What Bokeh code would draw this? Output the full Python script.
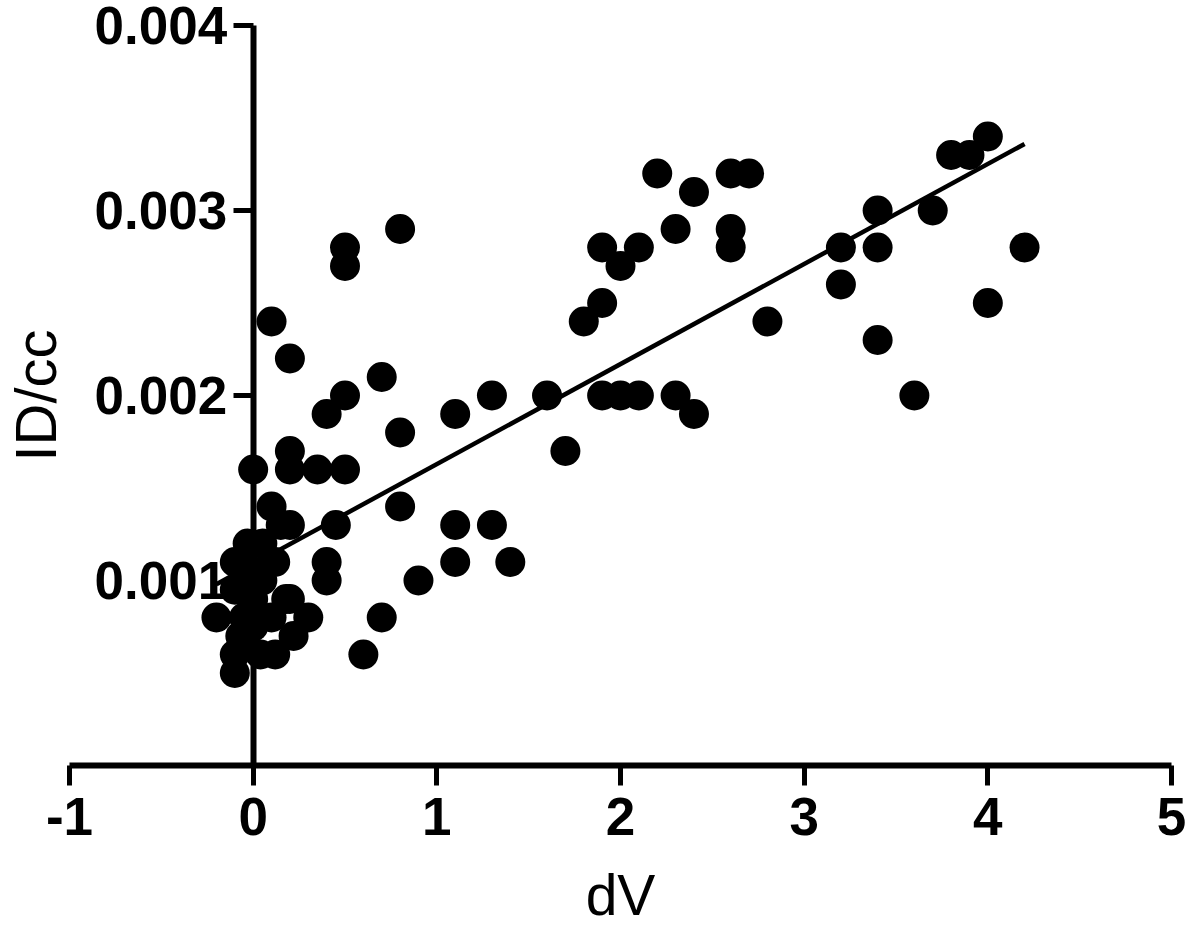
import math
from bokeh.plotting import figure
from bokeh.models import Range1d, FixedTicker, NumeralTickFormatter, Label
from bokeh.embed import file_html
from bokeh.resources import INLINE

# ---- data ----
dv = [
    -0.2, -0.1, -0.1, -0.07, -0.1, -0.1, 0.0, 0.0, 0.05, 0.1, 0.12, 0.2, 0.22,
    0.3, 0.15, 0.1, 0.05, 0.12, -0.03, 0.0, 0.18, 0.04, -0.05, 0.0, 0.2,
    0.1, 0.2, 0.2, 0.2, 0.35, 0.5, 0.4, 0.5, 0.5, 0.5, 0.8, 0.7, 0.8, 0.8,
    0.45, 0.4, 0.4, 0.7, 0.6, 0.9, 1.1, 1.1, 1.1, 1.3, 1.3, 1.4, 1.6, 1.7,
    1.8, 1.9, 1.9, 2.0, 2.1, 1.9, 2.0, 2.1, 2.3, 2.4, 2.2, 2.4, 2.3, 2.6,
    2.7, 2.6, 2.6, 2.8, 3.2, 3.2, 3.4, 3.4, 3.4, 3.6, 3.7, 3.8, 3.9, 4.0,
    4.0, 4.2,
]
id_cc = [
    0.0008, 0.0011, 0.00095, 0.0007, 0.0006, 0.0005, 0.0009, 0.00075, 0.001,
    0.0008, 0.0006, 0.0009, 0.0007, 0.0008, 0.0013, 0.0014, 0.0012, 0.0011,
    0.0012, 0.00105, 0.0009, 0.0006, 0.0008, 0.0016, 0.0013,
    0.0024, 0.0022, 0.0017, 0.0016, 0.0016, 0.0016, 0.0019, 0.0020, 0.0028,
    0.0027, 0.0029, 0.0021, 0.0018, 0.0014, 0.0013, 0.0011, 0.0010, 0.0008,
    0.0006, 0.0010, 0.0019, 0.0013, 0.0011, 0.0020, 0.0013, 0.0011, 0.0020,
    0.0017, 0.0024, 0.0025, 0.0028, 0.0027, 0.0028, 0.0020, 0.0020, 0.0020,
    0.0020, 0.0019, 0.0032, 0.0031, 0.0029, 0.0032, 0.0032, 0.0029, 0.0028,
    0.0024, 0.0028, 0.0026, 0.0030, 0.0028, 0.0023, 0.0020, 0.0030, 0.0033,
    0.0033, 0.0034, 0.0025, 0.0028,
]
fit_dv = [-0.2, 4.2]
fit_id_cc = [0.00098, 0.00336]

x_ticks = [-1, 0, 1, 2, 3, 4, 5]
y_ticks = [0.001, 0.002, 0.003, 0.004]
x_title = "dV"
y_title = "ID/cc"

FONT = "Liberation Sans"

# layout: the frame fills the canvas; both axes cross at (0, 0)
W, H = 1192, 927
X0_PX, X5_PX = 69.0, 1171.0          # pixel of x=-1 and x=5
Y0_PX, Y4_PX = 765.0, 25.0           # pixel of y=0 and y=0.004
sx = (X5_PX - X0_PX) / 6.0
sy = (Y0_PX - Y4_PX) / 0.004
x_rng = Range1d(-1 - X0_PX / sx, 5 + (W - X5_PX) / sx)
y_rng = Range1d(-(H - Y0_PX) / sy, 0.004 + Y4_PX / sy)

p = figure(
    width=W, height=H, x_range=x_rng, y_range=y_rng,
    output_backend="svg", toolbar_location=None,
    min_border=0, min_border_left=0, min_border_right=0,
    min_border_top=0, min_border_bottom=0,
)
p.outline_line_color = None
p.xgrid.visible = False
p.ygrid.visible = False
p.background_fill_color = "white"
p.border_fill_color = "white"

p.line(fit_dv, fit_id_cc, line_color="black", line_width=4.5)
p.scatter(dv, id_cc, size=30, fill_color="black", line_color="black", line_width=0)

for ax in (p.xaxis[0], p.yaxis[0]):
    ax.axis_line_color = "black"
    ax.axis_line_width = 6
    ax.major_tick_line_color = "black"
    ax.major_tick_line_width = 5
    ax.major_tick_in = 0
    ax.major_tick_out = 20
    ax.minor_tick_line_color = None
    ax.major_label_text_font = FONT
    ax.major_label_text_font_style = "bold"
    ax.major_label_text_font_size = "53px"
    ax.major_label_text_color = "black"

xa = p.xaxis[0]
xa.fixed_location = 0
xa.bounds = (x_ticks[0], x_ticks[-1])
xa.ticker = FixedTicker(ticks=x_ticks)
xa.major_label_overrides = {-1: "-1"}
xa.major_label_standoff = 12

ya = p.yaxis[0]
ya.fixed_location = 0
ya.bounds = (0, y_ticks[-1])
ya.ticker = FixedTicker(ticks=y_ticks)
ya.formatter = NumeralTickFormatter(format="0.000")
ya.major_label_standoff = 6
ya.level = "underlay"

# axis titles
p.add_layout(Label(
    x=2, y=-(894 - Y0_PX) / sy, x_units="data", y_units="data", text=x_title,
    text_font=FONT, text_font_size="57px", text_color="black",
    text_align="center", text_baseline="middle",
))
p.add_layout(Label(
    x=-1 - (X0_PX - 35) / sx, y=0.002, x_units="data", y_units="data",
    text=y_title, angle=math.pi / 2, text_font=FONT, text_font_size="58px",
    text_color="black", text_align="center", text_baseline="middle",
))

open("out.html", "w").write(file_html(p, INLINE))
